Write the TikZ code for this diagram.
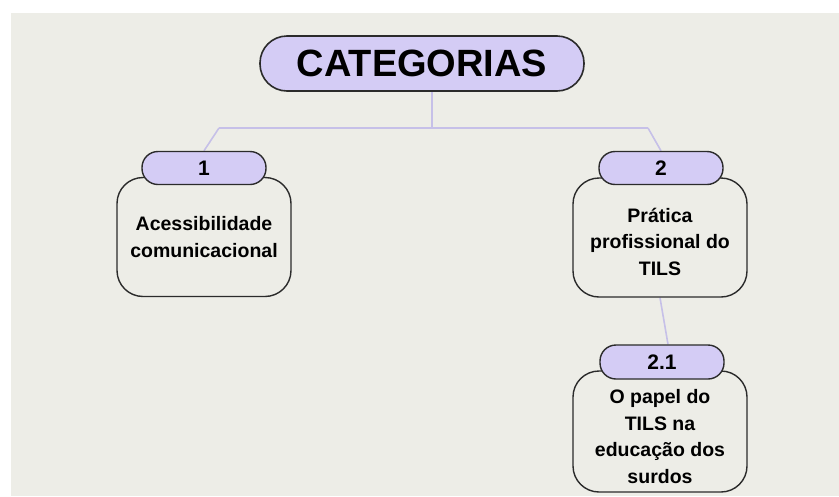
\documentclass[tikz,border=0pt]{standalone}
\usepackage{fontspec}
\setmainfont{Liberation Sans}
\usetikzlibrary{backgrounds}

\definecolor{lavender}{HTML}{D4CCF5}
\definecolor{linkline}{HTML}{C6C0E8}
\definecolor{paper}{HTML}{EDEDE7}
\definecolor{edge}{HTML}{2B2B2B}

\tikzset{
  tabbox/.style={draw=edge, line width=1.4pt, fill=lavender, rounded corners=16pt,
    minimum width=124pt, minimum height=33pt, inner sep=0pt,
    font=\fontsize{21}{24}\selectfont\bfseries},
  catbox/.style={draw=edge, line width=1.6pt, fill=lavender, rounded corners=27pt,
    minimum width=324pt, minimum height=55pt, inner sep=0pt,
    font=\fontsize{38}{40}\selectfont\bfseries},
  textbox/.style={draw=edge, line width=1.4pt, fill=paper, rounded corners=26pt,
    minimum width=174pt, minimum height=119pt, inner sep=0pt, align=center,
    font=\fontsize{19.5}{26.5}\selectfont\bfseries},
  link/.style={draw=linkline, line width=1.6pt}
}
\newcommand{\lowtext}[2]{\raisebox{#1}[0pt][0pt]{\begin{tabular}{@{}c@{}}#2\end{tabular}}}

\begin{document}
\begin{tikzpicture}[x=1pt, y=-1pt]
  \useasboundingbox (0,0) rectangle (839,496);

  \node [catbox] (cat) at (422,63.5) {CATEGORIAS};

  \node [textbox] (b1) at (204,237) {Acessibilidade\\comunicacional};
  \node [tabbox] (t1) at (204,168) {1};

  \node [textbox] (b2) at (660,237.5) {\lowtext{-11pt}{Prática\\profissional do\\TILS}};
  \node [tabbox] (t2) at (661,168) {2};

  \node [textbox, minimum height=121pt] (b21) at (660,431.5)
    {\lowtext{-12pt}{O papel do\\TILS na\\educação dos\\surdos}};
  \node [tabbox, minimum height=34pt] (t21) at (662,362) {2.1};

  \coordinate (jm) at (432,128);
  \coordinate (jl) at (219,128);
  \coordinate (jr) at (648,128);

  \begin{pgfonlayer}{background}
    % page and paper
    \fill [white] (0,0) rectangle (839,496);
    \fill [paper] (11,13) rectangle (839,496);
    \draw [link] (cat.south -| jm) -- (jm);
    \draw [link] (jl) -- (jr);
    \draw [link] (jl) -- (t1.north);
    \draw [link] (jr) -- (t2.north);
    \draw [link] (b2.south) -- ([xshift=6pt]t21.north);
  \end{pgfonlayer}
\end{tikzpicture}
\end{document}
